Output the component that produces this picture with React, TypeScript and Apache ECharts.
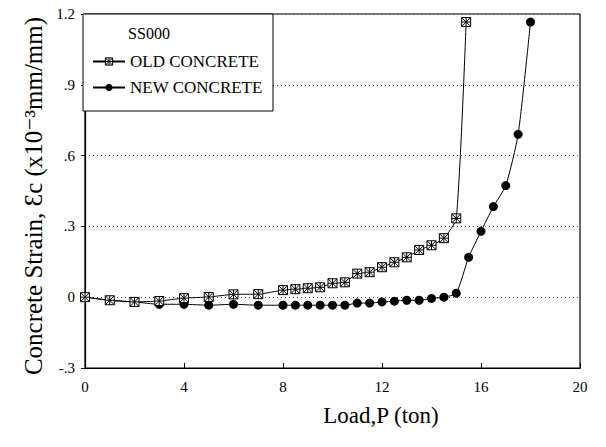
import React, { useEffect, useRef } from "react";
import * as echarts from "echarts";

const oldLoad = [0, 1, 2, 3, 4, 5, 6, 7, 8, 8.5, 9, 9.5, 10, 10.5, 11, 11.5, 12, 12.5, 13, 13.5, 14, 14.5, 15, 15.4];
const oldStrain = [0, -0.013, -0.02, -0.016, -0.004, 0.001, 0.012, 0.013, 0.03, 0.034, 0.038, 0.042, 0.059, 0.063, 0.1, 0.106, 0.127, 0.148, 0.169, 0.2, 0.22, 0.25, 0.334, 1.166];

const newLoad = [0, 1, 2, 3, 4, 5, 6, 7, 8, 8.5, 9, 9.5, 10, 10.5, 11, 11.5, 12, 12.5, 13, 13.5, 14, 14.5, 15, 15.5, 16, 16.5, 17, 17.5, 18];
const newStrain = [0, -0.013, -0.02, -0.03, -0.03, -0.034, -0.03, -0.034, -0.034, -0.034, -0.034, -0.034, -0.034, -0.034, -0.025, -0.025, -0.02, -0.017, -0.013, -0.013, -0.005, 0, 0.017, 0.169, 0.279, 0.384, 0.473, 0.69, 1.166];

const yTicks = [-0.3, 0, 0.3, 0.6, 0.9, 1.2];
const xTicks = [0, 4, 8, 12, 16, 20];

const legendTitle = "SS000";
const seriesNames = ["OLD CONCRETE", "NEW CONCRETE"];
const xTitle = "Load,P (ton)";
const yTitle = "Concrete Strain, \u0190c (x10\u207B\u00B3mm/mm)";

const squareSymbol = "path://M0 0H10V10H0Z M0 0L10 10 M10 0L0 10 M5 0V10 M0 5H10";

const serif = '"Liberation Serif", "DejaVu Serif", serif';

function fmtY(v: number) {
  const r = Math.round(v * 10) / 10;
  if (r === 0) return "0";
  return r.toFixed(1).replace(/^(-?)0\./, "$1.");
}

export default function App() {
  const ref = useRef<HTMLDivElement>(null);
  useEffect(() => {
    if (!ref.current) return;
    const chart = echarts.init(ref.current, undefined, { renderer: "svg" });
    chart.setOption({
      animation: false,
      backgroundColor: "#fff",
      grid: {
        left: 85,
        right: 26,
        top: 14,
        bottom: 79,
        show: true,
        borderColor: "#000",
        borderWidth: 1.2,
      },
      xAxis: {
        type: "value",
        min: xTicks[0],
        max: xTicks[xTicks.length - 1],
        interval: 4,
        axisLine: { onZero: false, lineStyle: { color: "#000", width: 1.2 } },
        axisTick: { inside: true, length: 5, lineStyle: { color: "#000" } },
        axisLabel: { color: "#000", fontSize: 15, fontFamily: serif, margin: 11 },
        splitLine: { show: false },
      },
      yAxis: {
        type: "value",
        min: yTicks[0],
        max: yTicks[yTicks.length - 1],
        interval: 0.3,
        axisLine: { lineStyle: { color: "#000", width: 1.2 } },
        axisTick: { inside: false, length: 4, lineStyle: { color: "#000" } },
        axisLabel: { color: "#000", fontSize: 15, fontFamily: serif, margin: 10, formatter: fmtY },
        splitLine: { show: true, lineStyle: { color: "#444", type: [1, 3], width: 1 } },
      },
      legend: {
        orient: "vertical",
        left: 92,
        top: 53,
        itemWidth: 32,
        itemHeight: 9,
        itemGap: 9,
        padding: 0,
        z: 20,
        textStyle: { color: "#000", fontSize: 17, fontFamily: serif },
        data: [
          { name: seriesNames[0], itemStyle: { color: "#fff", borderColor: "#000", borderWidth: 1 } },
          { name: seriesNames[1] },
        ],
      },
      graphic: [
        {
          type: "rect",
          shape: { x: 83, y: 14, width: 190, height: 97 },
          style: { fill: "#fff", stroke: "#000", lineWidth: 1 },
          z: 5,
        },
        {
          type: "text",
          x: 149,
          y: 33,
          style: { text: legendTitle, fontSize: 16, fontFamily: serif, fill: "#000", textAlign: "center", textVerticalAlign: "middle" },
          z: 6,
        },
        {
          type: "text",
          x: 381,
          y: 415,
          style: { text: xTitle, fontSize: 23, fontFamily: serif, fill: "#000", textAlign: "center", textVerticalAlign: "middle" },
        },
        {
          type: "text",
          x: 33,
          y: 196,
          rotation: Math.PI / 2,
          style: { text: yTitle, fontSize: 25, fontFamily: serif, fill: "#000", textAlign: "center", textVerticalAlign: "middle" },
        },
      ],
      series: [
        {
          name: seriesNames[1],
          type: "line",
          data: newLoad.map((x, i) => [x, newStrain[i]]),
          smooth: 0.2,
          symbol: "circle",
          symbolSize: 9,
          itemStyle: { color: "#000" },
          lineStyle: { color: "#000", width: 1 },
          z: 3,
        },
        {
          name: seriesNames[0],
          type: "line",
          data: oldLoad.map((x, i) => [x, oldStrain[i]]),
          smooth: 0.2,
          symbol: squareSymbol,
          symbolSize: 9,
          symbolKeepAspect: true,
          itemStyle: { color: "#fff", borderColor: "#000", borderWidth: 1 },
          lineStyle: { color: "#000", width: 1 },
          z: 4,
        },
      ],
    });
    return () => chart.dispose();
  }, []);
  return <div ref={ref} style={{ position: "fixed", left: 0, top: 0, width: 606, height: 447 }} />;
}
